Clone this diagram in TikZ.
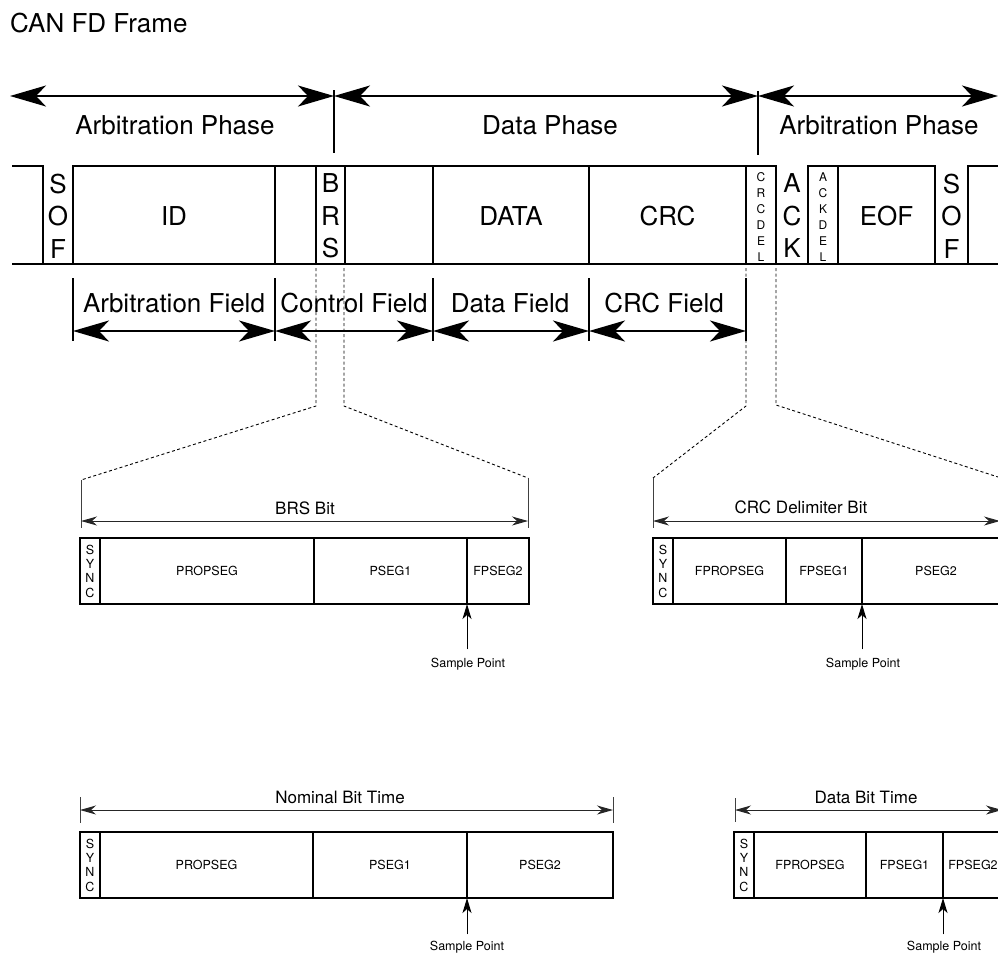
\documentclass[tikz,border=0pt]{standalone}
\usepackage{fontspec}
\setmainfont{TeX Gyre Heros}
\usetikzlibrary{arrows.meta}
\tikzset{
  BigTip/.tip={Stealth[length=36pt,width=21pt,inset=10pt]},
  SmallTip/.tip={Stealth[length=16pt,width=9pt,inset=5pt]},
  SpTip/.tip={Stealth[length=15pt,width=9pt,inset=4pt]},
  txtbig/.style={font=\fontsize{26}{26}\selectfont,inner sep=0pt,text height=18.7pt,text depth=0pt},
  txtmid/.style={font=\fontsize{17}{17}\selectfont,inner sep=0pt,text height=12.2pt,text depth=0pt},
  txtsmall/.style={font=\fontsize{12.5}{12.5}\selectfont,inner sep=0pt,text height=9pt,text depth=0pt},
  stackbig/.style={font=\fontsize{26}{32.5}\selectfont,inner sep=0pt,align=center},
  stacksmall/.style={font=\fontsize{12}{16}\selectfont,inner sep=0pt,align=center},
  wave/.style={line width=2pt,line join=miter},
  phasearrow/.style={line width=2pt,BigTip-BigTip},
  marker/.style={line width=2pt},
  seg/.style={draw,line width=2pt,inner sep=0pt,outer sep=0pt,minimum height=66pt,font=\fontsize{12.5}{12.5}\selectfont,text height=9pt,text depth=0pt},
  syncseg/.style={draw,line width=2pt,inner sep=0pt,outer sep=0pt,minimum height=66pt,minimum width=20pt,font=\fontsize{12.5}{14.3}\selectfont,align=center},
  bitarrow/.style={line width=1pt,black!85,SmallTip-SmallTip},
  bittick/.style={line width=1pt,black!75},
  zoomline/.style={line width=0.9pt,dash pattern=on 3pt off 2.5pt},
  sparrow/.style={line width=1pt,-SpTip},
}
\begin{document}
\begin{tikzpicture}[x=1pt,y=-1pt]
\useasboundingbox (0,0) rectangle (998,959);
\clip (0,0) rectangle (998,959);

% title
\node[txtbig,anchor=west] (title) at (10,23) {CAN FD Frame};

% phase arrows
\coordinate (pL) at (10,96);
\coordinate (pM1) at (334,96);
\coordinate (pM2) at (758,96);
\coordinate (pR) at (998,96);
\coordinate (t1a) at (334,90);
\coordinate (t1b) at (334,153);
\coordinate (t2a) at (758,91);
\coordinate (t2b) at (758,155);
\draw[marker] (t1a) -- (t1b);
\draw[marker] (t2a) -- (t2b);
\draw[phasearrow] (pL) -- (pM1);
\draw[phasearrow] (pM1) -- (pM2);
\draw[phasearrow] (pM2) -- (pR);
\node[txtbig] (ph1) at (175,125) {Arbitration Phase};
\node[txtbig] (ph2) at (550,125) {Data Phase};
\node[txtbig] (ph3) at (879,125) {Arbitration Phase};

% frame waveform
\draw[wave] (12,166) -- (43,166) -- (43,264);
\draw[wave] (73,264) -- (73,166) -- (776,166) -- (776,264);
\draw[wave] (808,264) -- (808,166) -- (935,166) -- (935,264);
\draw[wave] (968,264) -- (968,166) -- (1000,166);
\draw[wave] (12,264) -- (1000,264);
\foreach \x in {275,316,345,433,589,746,838} \draw[wave] (\x,166) -- (\x,264);

\node[stackbig] (sof1) at (58,216) {S\\O\\F};
\node[txtbig] (id) at (174,216) {ID};
\node[stackbig] (brs) at (330.5,216) {B\\R\\S};
\node[txtbig] (data) at (511,216) {DATA};
\node[txtbig] (crc) at (667.5,216) {CRC};
\node[stacksmall] (crcdel) at (761,217) {C\\R\\C\\D\\E\\L};
\node[stackbig] (ack) at (792,216) {A\\C\\K};
\node[stacksmall] (ackdel) at (823,217) {A\\C\\K\\D\\E\\L};
\node[txtbig] (eof) at (886.5,216) {EOF};
\node[stackbig] (sof2) at (951.5,216) {S\\O\\F};

% field markers
\foreach \n/\x in {f0/73,f1/275,f2/433,f3/589,f4/746}{
  \coordinate (\n a) at (\x,278);
  \coordinate (\n b) at (\x,341);
  \coordinate (\n) at (\x,331);
  \draw[marker] (\n a) -- (\n b);
}
\draw[phasearrow] (f0) -- (f1);
\draw[phasearrow] (f1) -- (f2);
\draw[phasearrow] (f2) -- (f3);
\draw[phasearrow] (f3) -- (f4);
\node[txtbig] (fl1) at (174,303) {Arbitration Field};
\node[txtbig] (fl2) at (354,303) {Control Field};
\node[txtbig] (fl3) at (510,303) {Data Field};
\node[txtbig] (fl4) at (664,303) {CRC Field};

% zoom lines
\coordinate (zA0) at (316,268); \coordinate (zA1) at (316,406); \coordinate (zA2) at (81,480);
\coordinate (zB0) at (344,268); \coordinate (zB1) at (344,406); \coordinate (zB2) at (528,478);
\coordinate (zC0) at (746,268); \coordinate (zC1) at (746,406); \coordinate (zC2) at (653,478);
\coordinate (zD0) at (776,268); \coordinate (zD1) at (776,405); \coordinate (zD2) at (998,477);
\draw[zoomline] (zA0) -- (zA1) -- (zA2);
\draw[zoomline] (zB0) -- (zB1) -- (zB2);
\draw[zoomline] (zC0) -- (zC1) -- (zC2);
\draw[zoomline] (zD0) -- (zD1) -- (zD2);

% BRS bit
\coordinate (bt1) at (81,528); \coordinate (bt2) at (528,528);
\draw[bittick] (zA2) -- (bt1);
\draw[bittick] (zB2) -- (bt2);
\coordinate (ba1) at (81,521); \coordinate (ba2) at (528,521);
\draw[bitarrow] (ba1) -- (ba2);
\node[txtmid] (brslbl) at (305,508) {BRS Bit};
\node[syncseg] (b-sync) at (90,571) {S\\Y\\N\\C};
\node[seg,minimum width=214pt] (b-prop) at (207,571) {PROPSEG};
\node[seg,minimum width=153pt] (b-p1) at (390.5,571) {PSEG1};
\node[seg,minimum width=62pt] (b-p2) at (498,571) {FPSEG2};
\node[txtsmall] (b-sp) at (468,663) {Sample Point};
\draw[sparrow] ([yshift=9pt]b-sp.north -| b-p1.south east) -- (b-p1.south east);

% CRC delimiter bit
\coordinate (ct1) at (653,528);
\draw[bittick] (zC2) -- (ct1);
\coordinate (ca1) at (653,521); \coordinate (ca2) at (1000,521);
\draw[bitarrow] (ca1) -- (ca2);
\node[txtmid] (crclbl) at (801,507) {CRC Delimiter Bit};
\node[syncseg] (c-sync) at (663,571) {S\\Y\\N\\C};
\node[seg,minimum width=113pt] (c-prop) at (729.5,571) {FPROPSEG};
\node[seg,minimum width=76pt] (c-p1) at (824,571) {FPSEG1};
\node[seg,minimum width=148pt] (c-p2) at (936,571) {PSEG2};
\node[txtsmall] (c-sp) at (863,663) {Sample Point};
\draw[sparrow] ([yshift=9pt]c-sp.north -| c-p1.south east) -- (c-p1.south east);

% Nominal bit time
\coordinate (nt1a) at (80,797); \coordinate (nt1b) at (80,823);
\coordinate (nt2a) at (613,797); \coordinate (nt2b) at (613,823);
\draw[bittick] (nt1a) -- (nt1b);
\draw[bittick] (nt2a) -- (nt2b);
\coordinate (na1) at (80,810); \coordinate (na2) at (613,810);
\draw[bitarrow] (na1) -- (na2);
\node[txtmid] (nlbl) at (340,797) {Nominal Bit Time};
\node[syncseg] (n-sync) at (90,865) {S\\Y\\N\\C};
\node[seg,minimum width=213pt] (n-prop) at (206.5,865) {PROPSEG};
\node[seg,minimum width=154pt] (n-p1) at (390,865) {PSEG1};
\node[seg,minimum width=146pt] (n-p2) at (540,865) {PSEG2};
\node[txtsmall] (n-sp) at (467,946) {Sample Point};
\draw[sparrow] ([yshift=7pt]n-sp.north -| n-p1.south east) -- (n-p1.south east);

% Data bit time
\coordinate (dt1a) at (735,798); \coordinate (dt1b) at (735,822);
\draw[bittick] (dt1a) -- (dt1b);
\coordinate (da1) at (735,810); \coordinate (da2) at (1002,810);
\draw[bitarrow] (da1) -- (da2);
\node[txtmid] (dlbl) at (866,797) {Data Bit Time};
\node[syncseg] (d-sync) at (744,865) {S\\Y\\N\\C};
\node[seg,minimum width=112pt] (d-prop) at (810,865) {FPROPSEG};
\node[seg,minimum width=77pt] (d-p1) at (904.5,865) {FPSEG1};
\node[seg,minimum width=60pt] (d-p2) at (973,865) {FPSEG2};
\node[txtsmall] (d-sp) at (944,946) {Sample Point};
\draw[sparrow] ([yshift=7pt]d-sp.north -| d-p1.south east) -- (d-p1.south east);
\end{tikzpicture}
\end{document}
